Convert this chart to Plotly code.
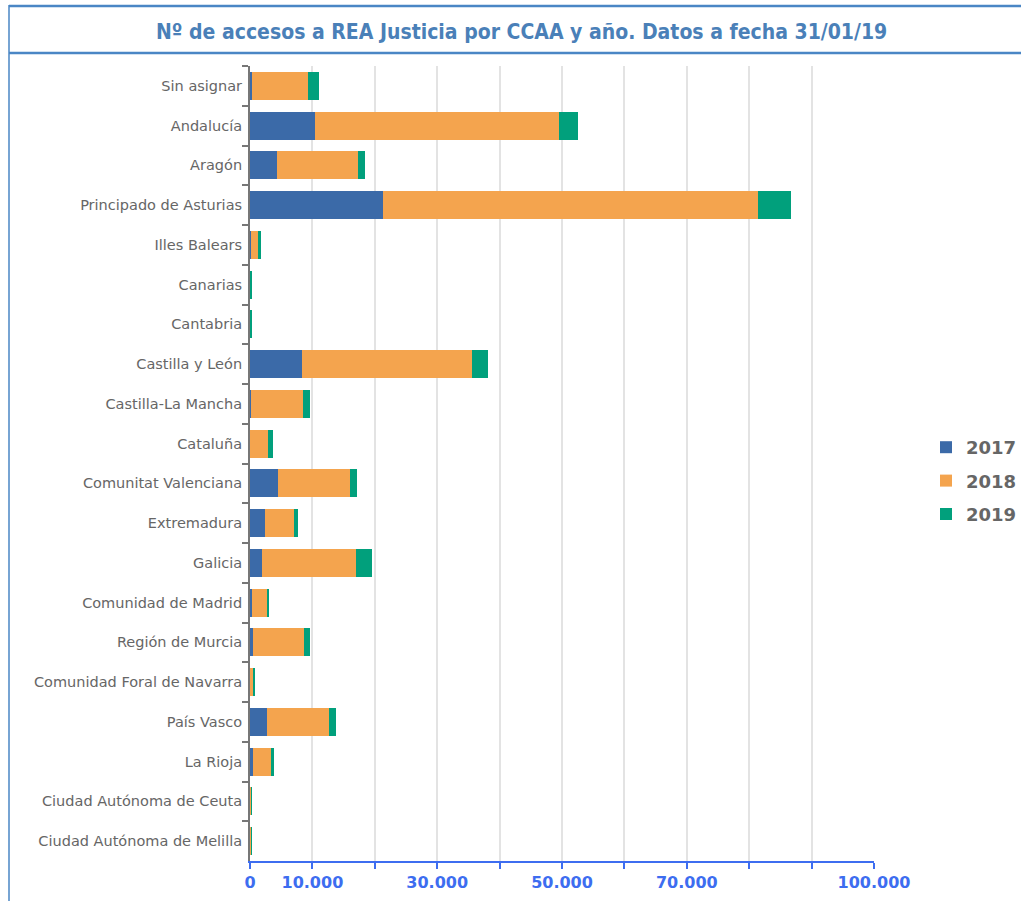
import plotly.graph_objects as go

categories = ["Sin asignar", "Andalucía", "Aragón", "Principado de Asturias", "Illes Balears",
              "Canarias", "Cantabria", "Castilla y León", "Castilla-La Mancha", "Cataluña",
              "Comunitat Valenciana", "Extremadura", "Galicia", "Comunidad de Madrid",
              "Región de Murcia", "Comunidad Foral de Navarra", "País Vasco", "La Rioja",
              "Ciudad Autónoma de Ceuta", "Ciudad Autónoma de Melilla"]
v2017 = [320, 10360, 4330, 21260, 150, 10, 20, 8280, 100, 40, 4490, 2350, 1870, 370, 480, 50, 2720, 530, 30, 60]
v2018 = [8970, 39150, 13030, 60150, 1130, 20, 60, 27300, 8450, 2790, 11540, 4700, 15170, 2300, 8120, 480, 9880, 2840, 220, 220]
v2019 = [1800, 3000, 1120, 5300, 430, 150, 250, 2560, 1010, 860, 1120, 590, 2510, 370, 960, 270, 1240, 530, 20, 20]
series_names = ["2017", "2018", "2019"]
colors = ["#3b6aa8", "#f4a44e", "#01a07c"]

tick_vals = [0, 10000, 20000, 30000, 40000, 50000, 60000, 70000, 80000, 90000, 100000]
tick_text = ["0", "10.000", "", "30.000", "", "50.000", "", "70.000", "", "", "100.000"]

L, R, T, B, W, H = 250, 147, 66, 40, 1021, 901
PW, PH = W - L - R, H - T - B

def px(x):
    return (x - L) / PW

def py(y):
    return 1 - (y - T) / PH

fig = go.Figure()
for name, vals, col in zip(series_names, [v2017, v2018, v2019], colors):
    fig.add_trace(go.Bar(y=categories, x=vals, name=name, orientation="h", legendgroup=name,
                         marker=dict(color=col, line=dict(width=0))))

fig.update_layout(
    barmode="stack",
    bargap=0.29,
    width=W, height=H,
    margin=dict(l=L, r=R, t=T, b=B, autoexpand=False),
    paper_bgcolor="white", plot_bgcolor="white",
    font=dict(family="DejaVu Sans", color="#666666"),
    showlegend=True,
    legend=dict(xref="container", yref="container", x=926 / W, y=1 - 481 / H,
                xanchor="left", yanchor="middle", traceorder="grouped",
                font=dict(size=18, color="#666666", family="DejaVu Sans", weight="bold"),
                tracegroupgap=7, itemwidth=30),
    annotations=[dict(text="<b>Nº de accesos a REA Justicia por CCAA y año. Datos a fecha 31/01/19</b>",
                      xref="paper", yref="paper", x=px(521), y=py(32),
                      xanchor="center", yanchor="middle", showarrow=False,
                      font=dict(size=21, color="#4a80b8", family="DejaVu Sans Condensed"))],
    shapes=[
        dict(type="line", xref="paper", yref="paper", x0=px(9), x1=px(1025),
             y0=py(6), y1=py(6), line=dict(color="#4a86c5", width=2.5)),
        dict(type="line", xref="paper", yref="paper", x0=px(9), x1=px(1025),
             y0=py(53), y1=py(53), line=dict(color="#4a86c5", width=2.5)),
        dict(type="line", xref="paper", yref="paper", x0=px(9), x1=px(9),
             y0=py(5), y1=py(905), line=dict(color="#4a86c5", width=1.5)),
    ],
)
fig.update_xaxes(range=[0, 100000], tickvals=tick_vals, ticktext=tick_text,
                 showgrid=True, gridcolor="#e3e3e3", gridwidth=2,
                 showline=True, linecolor="#3d6df0", linewidth=2,
                 ticks="outside", tickcolor="#3d6df0", ticklen=6, tickwidth=1.5,
                 tickfont=dict(size=16, color="#3d6df0", family="DejaVu Sans", weight="bold"),
                 zeroline=False, fixedrange=True)
fig.update_yaxes(autorange="reversed", type="category",
                 showline=True, linecolor="#777777", linewidth=2,
                 ticks="outside", tickson="boundaries", tickcolor="#777777", ticklen=6, tickwidth=2,
                 tickfont=dict(size=14.5, color="#666666", family="DejaVu Sans"),
                 ticklabelstandoff=3, showgrid=False, fixedrange=True)

fig.write_html("out.html", config={"displayModeBar": False},
               post_script="document.body.style.margin='0';")
